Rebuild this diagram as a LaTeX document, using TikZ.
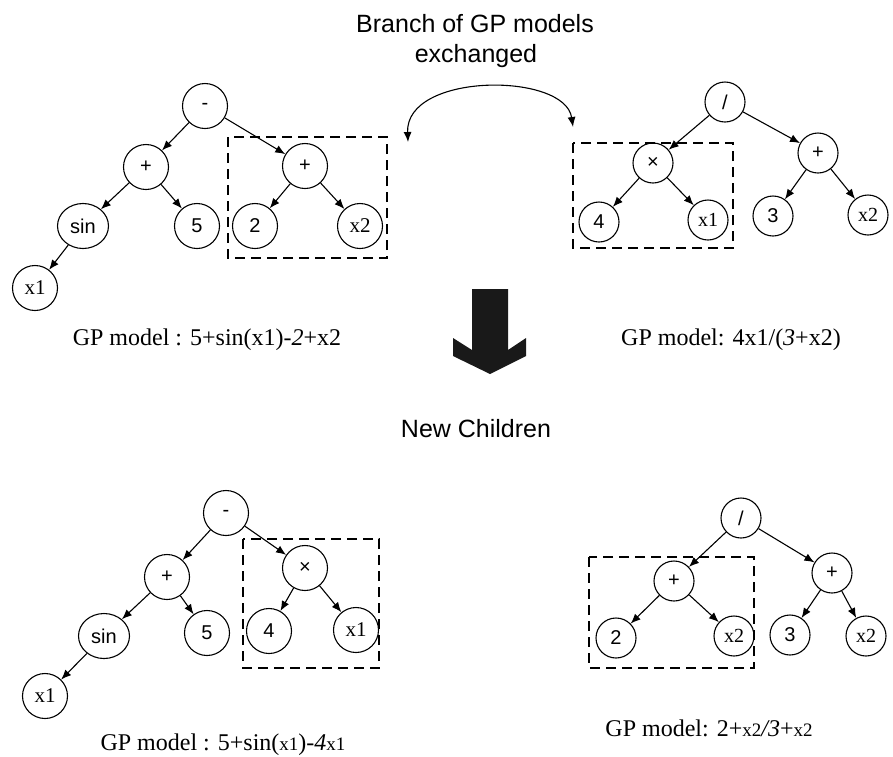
\documentclass[tikz,border=0pt]{standalone}
\usepackage{fontspec}
\setmainfont{Liberation Serif}
\setsansfont{Liberation Sans}
\usetikzlibrary{arrows.meta,shapes.geometric}
\newcommand{\sm}[1]{{\fontsize{19}{19}\selectfont #1}}
\begin{document}
\begin{tikzpicture}[x=1pt,y=-1pt,
  nd/.style={circle,draw,line width=1.1pt,inner sep=0pt,minimum size=45pt,font=\sffamily\fontsize{20}{20}\selectfont},
  ndv/.style={nd,font=\rmfamily\fontsize{21}{21}\selectfont},
  nds/.style={nd,minimum size=40pt},
  ndsv/.style={ndv,minimum size=40pt,font=\rmfamily\fontsize{20}{20}\selectfont},
  el/.style={ellipse,draw,line width=1.1pt,inner sep=0pt,minimum width=51pt,minimum height=45pt,font=\sffamily\fontsize{20}{20}\selectfont},
  conn/.style={line width=1.1pt,-{Latex[length=10pt,width=8pt]}},
  dbox/.style={draw,line width=1.1pt,dash pattern=on 10pt off 6pt},
  lbl/.style={anchor=base,inner sep=0pt,font=\rmfamily\fontsize{24}{24}\selectfont},
  ttl/.style={anchor=base,inner sep=0pt,font=\sffamily\fontsize{25}{25}\selectfont},
]
\fill[white] (0,0) rectangle (893,756);
\useasboundingbox (0,0) rectangle (893,756);

% title
\node[ttl] (t1) at (475,32) {Branch of GP models};
\node[ttl] (t2) at (476,62) {exchanged};
\coordinate (cl) at (408,142);
\coordinate (cr) at (573,127);
\draw[line width=1.1pt,{Latex[length=10pt,width=8pt]}-{Latex[length=10pt,width=8pt]}] (cl) .. controls (405,72) and (565,72) .. (cr);

% top-left tree
\node[nd] (m1) at (205,106) {-};
\node[nd] (p1) at (146,167) {+};
\node[el] (sin1) at (83,226) {sin};
\node[nd] (five1) at (197,226) {5};
\node[ndv] (xa1) at (35,288) {x1};
\node[nd] (p2) at (305,166) {+};
\node[nd] (two1) at (255,226) {2};
\node[ndv] (x2a) at (360,226) {x2};
\draw[conn] (m1) -- (p1);
\draw[conn] (m1) -- (p2);
\draw[conn] (p1) -- (sin1);
\draw[conn] (p1) -- (five1);
\draw[conn] (sin1) -- (xa1);
\draw[conn] (p2) -- (two1);
\draw[conn] (p2) -- (x2a);
\draw[dbox] (228,137) rectangle (387,258);
\node[lbl] (lab1) at (207,345) {GP model : 5+sin(x1)-\textit{2}+x2};

% top-right tree
\node[nds] (d1) at (725,102) {/};
\node[nds] (tm1) at (653,163) {×};
\node[nds] (p3) at (818,153) {+};
\node[nds] (four1) at (599,222) {4};
\node[ndsv] (x1b) at (708,220) {x1};
\node[nds] (three1) at (773,216) {3};
\node[ndsv] (x2b) at (868,215) {x2};
\draw[conn] (d1) -- (tm1);
\draw[conn] (d1) -- (p3);
\draw[conn] (tm1) -- (four1);
\draw[conn] (tm1) -- (x1b);
\draw[conn] (p3) -- (three1);
\draw[conn] (p3) -- (x2b);
\draw[dbox] (573,143) rectangle (733,248);
\node[lbl] (lab2) at (731,345) {GP model: 4x1/(\textit{3}+x2)};

% big arrow
\fill[black!90] (472,289) -- (508,289) -- (508,350) -- (526,338) -- (526,356) -- (490,374) -- (453,356) -- (453,338) -- (472,350) -- cycle;

\node[ttl] (nc) at (476,437) {New Children};

% bottom-left tree
\node[nd] (m2) at (226,513) {-};
\node[nd] (p4) at (167,577) {+};
\node[el] (sin2) at (104,636) {sin};
\node[nd] (five2) at (207,633) {5};
\node[ndv] (x1c) at (45,696) {x1};
\node[nd] (tm2) at (305,568) {×};
\node[nd] (four2) at (269,631) {4};
\node[ndv] (x1d) at (356,630) {x1};
\draw[conn] (m2) -- (p4);
\draw[conn] (m2) -- (tm2);
\draw[conn] (p4) -- (sin2);
\draw[conn] (p4) -- (five2);
\draw[conn] (sin2) -- (x1c);
\draw[conn] (tm2) -- (four2);
\draw[conn] (tm2) -- (x1d);
\draw[dbox] (243,539) rectangle (379,668);
\node[lbl] (lab3) at (223,750) {GP model : 5+sin(\sm{x1})-\textit{4}\sm{x1}};

% bottom-right tree
\node[nds] (d2) at (741,518) {/};
\node[nds] (p5) at (674,581) {+};
\node[nds] (p6) at (832,573) {+};
\node[nds] (two2) at (616,638) {2};
\node[ndsv] (x2c) at (734,636) {x2};
\node[nds] (three2) at (790,635) {3};
\node[ndsv] (x2d) at (866,636) {x2};
\draw[conn] (d2) -- (p5);
\draw[conn] (d2) -- (p6);
\draw[conn] (p5) -- (two2);
\draw[conn] (p5) -- (x2c);
\draw[conn] (p6) -- (three2);
\draw[conn] (p6) -- (x2d);
\draw[dbox] (589,557) rectangle (754,668);
\node[lbl] (lab4) at (709,736) {GP model: 2+\sm{x2}\textit{/3}+\sm{x2}};
\end{tikzpicture}
\end{document}
